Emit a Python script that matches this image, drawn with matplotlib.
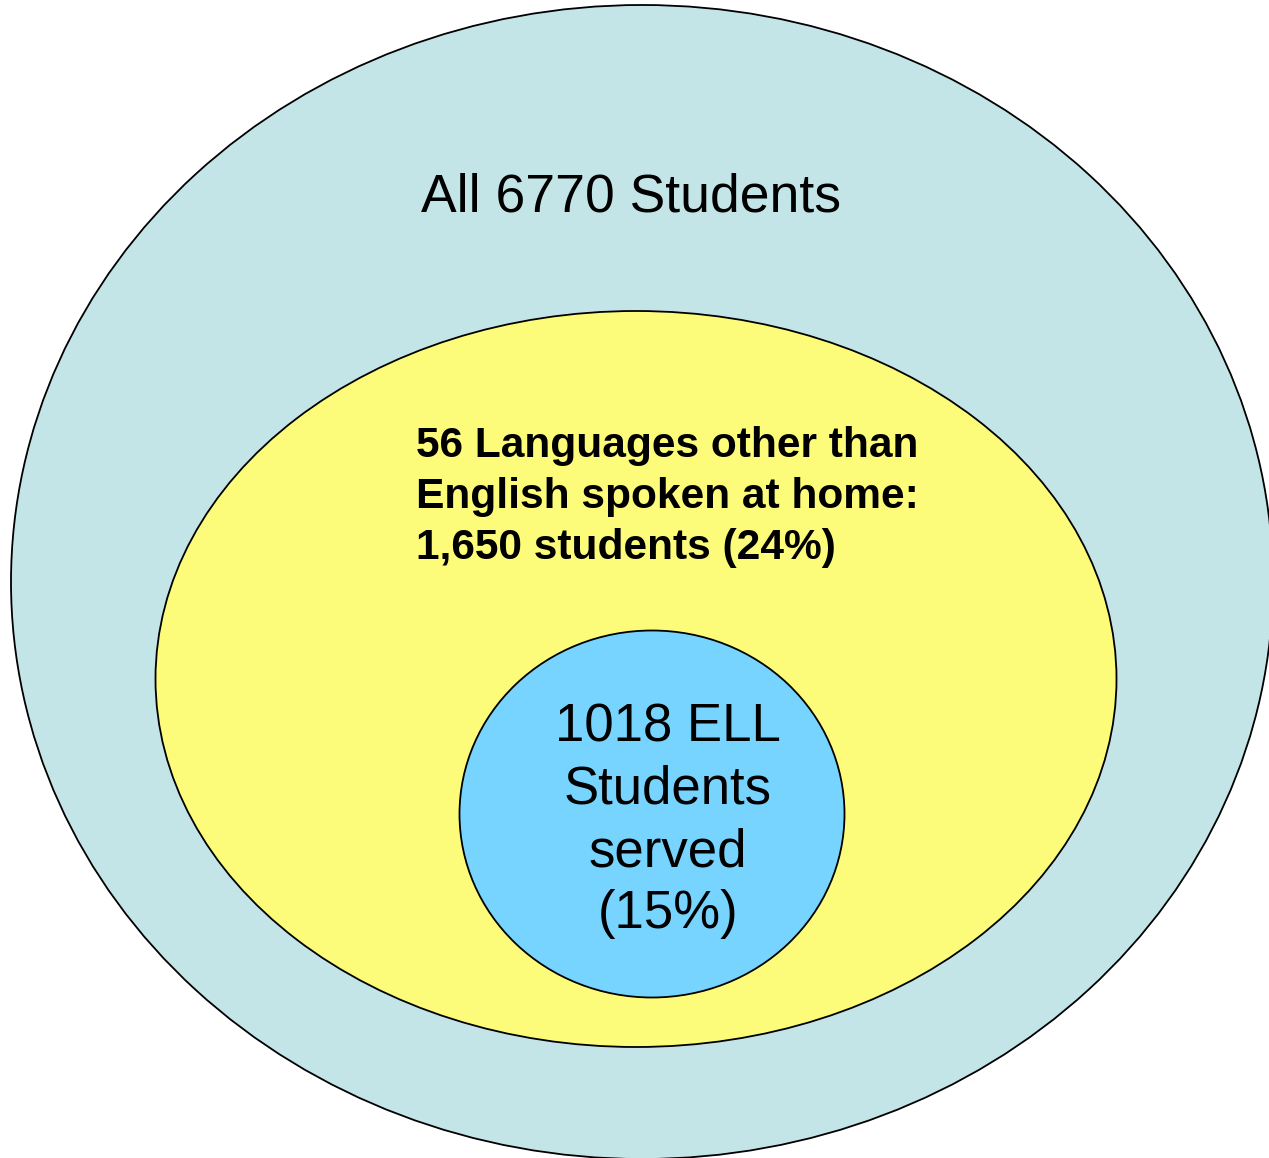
import matplotlib
matplotlib.use('Agg')
import matplotlib.pyplot as plt
from matplotlib.patches import Ellipse

plt.rcParams['font.family'] = ['Liberation Sans', 'DejaVu Sans']

# groups, outer to inner
group_labels = ['All 6770 Students',
                '56 Languages other than\nEnglish spoken at home:\n1,650 students (24%)',
                '1018 ELL\nStudents\nserved\n(15%)']
group_counts = [6770, 1650, 1018]
group_colors = ['#C4E5E8', '#FDFB7A', '#77D4FF']

# ellipse geometry in pixels (center x, center y, width, height)
shapes = [(642, 582, 1262, 1154),
          (636, 679, 961, 736),
          (652, 814, 385, 367)]

W, H = 1269, 1158
fig = plt.figure(figsize=(W / 100, H / 100), dpi=100)
ax = fig.add_axes([0, 0, 1, 1])
ax.set_xlim(0, W)
ax.set_ylim(H, 0)
ax.axis('off')

for (cx, cy, w, h), col in zip(shapes, group_colors):
    ax.add_patch(Ellipse((cx, cy), w, h, facecolor=col, edgecolor='black', linewidth=1.3))

ax.text(631, 197, group_labels[0], fontsize=38.5, ha='center', va='center')
ax.text(416, 497, group_labels[1], fontsize=30.6, fontweight='bold',
        ha='left', va='center', linespacing=1.36)
ax.text(668, 821, group_labels[2], fontsize=38, ha='center', va='center',
        linespacing=1.31)

fig.savefig('out.png', dpi=100)
